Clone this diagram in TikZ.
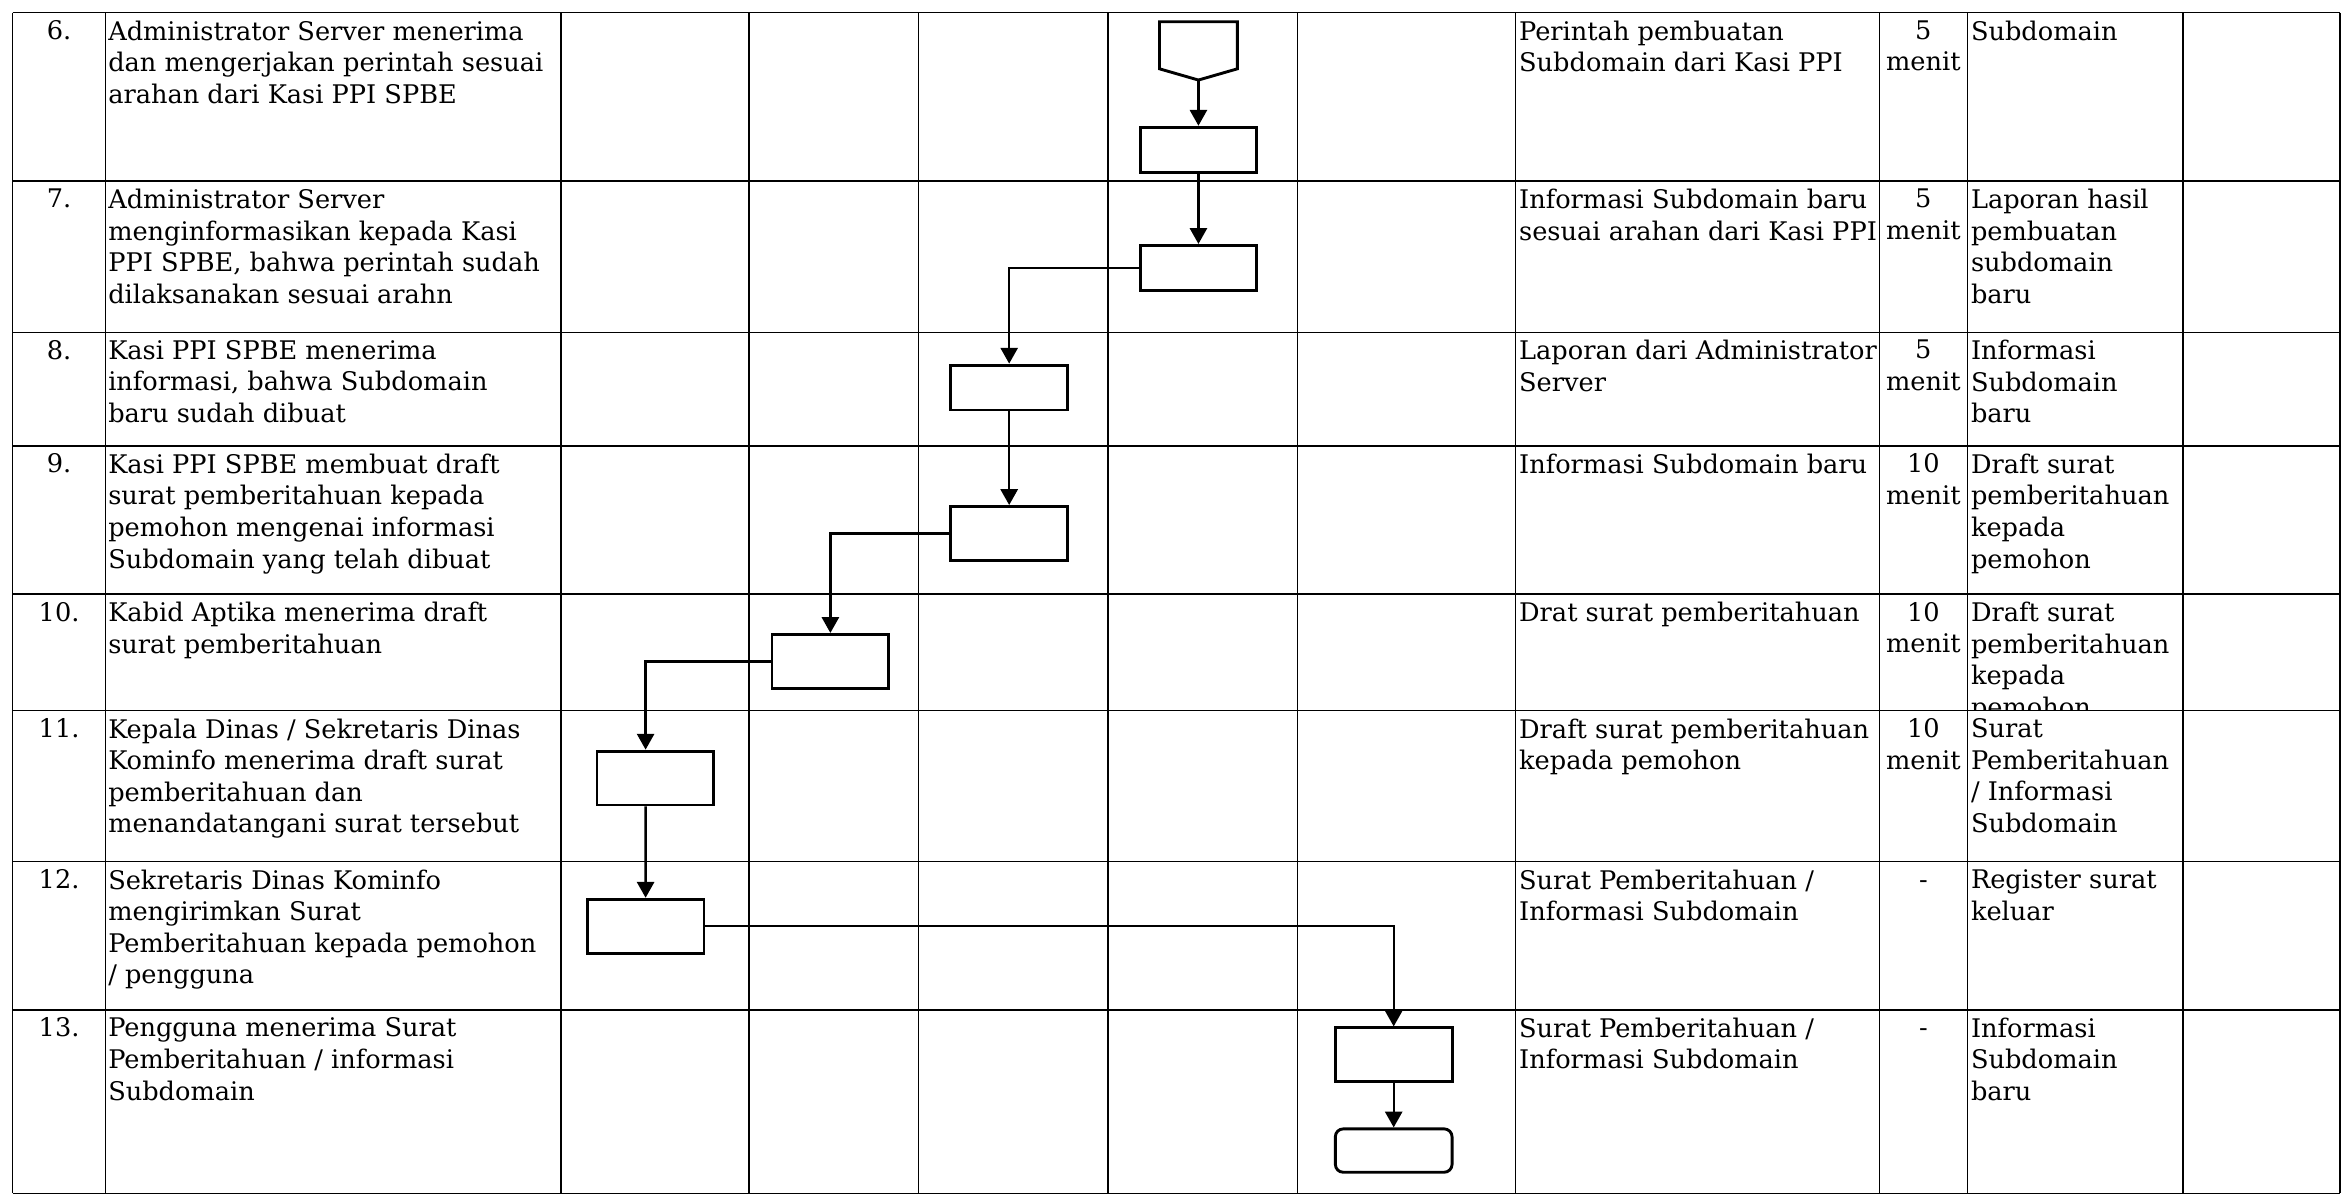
\documentclass[tikz,border=0pt]{standalone}
\usepackage{fontspec}
\setmainfont{DejaVu Serif}
\usetikzlibrary{arrows.meta}
\newcommand{\txt}{\fontsize{9.75}{12}\selectfont}

\begin{document}
\begin{tikzpicture}[x=0.2mm, y=-0.2mm,
    cell/.style={anchor=north west, inner sep=0pt, align=left, font=\txt},
    num/.style={anchor=north, inner sep=0pt, align=center, font=\txt},
    proc/.style={draw, line width=1.1pt, inner sep=0pt, minimum width=1.56cm, minimum height=0.72cm},
    flow/.style={line width=0.9pt, -{Triangle[width=6.5pt, length=6pt]}},
    grid line/.style={line width=0.5pt}]
  \useasboundingbox (0,0) rectangle (1568,799);

  % table
  \foreach \x in {8.5,70.5,375,500.5,614,740.5,867,1013,1256,1315,1459,1564}
    \draw[grid line] (\x,8.5) -- (\x,797.5);
  \foreach \y in {8.5,121,222,298,397,475,576,675,797.5}
    \draw[grid line] (8.5,\y) -- (1564,\y);

  % row 6
  \node[num] (n6) at (39.5,13.5) {6.};
  \node[cell] (a6) at (72,13.5) {Administrator Server menerima\\dan mengerjakan perintah sesuai\\arahan dari Kasi PPI SPBE};
  \node[cell] (in6) at (1015,13.5) {Perintah pembuatan\\Subdomain dari Kasi PPI};
  \node[num] (t6) at (1285.5,13.5) {5\\menit};
  \node[cell] (out6) at (1317,13.5) {Subdomain};

  % row 7
  \node[num] (n7) at (39.5,126) {7.};
  \node[cell] (a7) at (72,126) {Administrator Server\\menginformasikan kepada Kasi\\PPI SPBE, bahwa perintah sudah\\dilaksanakan sesuai arahn};
  \node[cell] (in7) at (1015,126) {Informasi Subdomain baru\\sesuai arahan dari Kasi PPI};
  \node[num] (t7) at (1285.5,126) {5\\menit};
  \node[cell] (out7) at (1317,126) {Laporan hasil\\pembuatan\\subdomain\\baru};

  % row 8
  \node[num] (n8) at (39.5,227) {8.};
  \node[cell] (a8) at (72,227) {Kasi PPI SPBE menerima\\informasi, bahwa Subdomain\\baru sudah dibuat};
  \node[cell] (in8) at (1015,227) {Laporan dari Administrator\\Server};
  \node[num] (t8) at (1285.5,227) {5\\menit};
  \node[cell] (out8) at (1317,227) {Informasi\\Subdomain\\baru};

  % row 9
  \node[num] (n9) at (39.5,303) {9.};
  \node[cell] (a9) at (72,303) {Kasi PPI SPBE membuat draft\\surat pemberitahuan kepada\\pemohon mengenai informasi\\Subdomain yang telah dibuat};
  \node[cell] (in9) at (1015,303) {Informasi Subdomain baru};
  \node[num] (t9) at (1285.5,303) {10\\menit};
  \node[cell] (out9) at (1317,303) {Draft surat\\pemberitahuan\\kepada\\pemohon};

  % row 10
  \node[num] (n10) at (39.5,402) {10.};
  \node[cell] (a10) at (72,402) {Kabid Aptika menerima draft\\surat pemberitahuan};
  \node[cell] (in10) at (1015,402) {Drat surat pemberitahuan};
  \node[num] (t10) at (1285.5,402) {10\\menit};
  \begin{scope}
    \clip (1315,397) rectangle (1459,475);
    \node[cell] (out10) at (1317,402) {Draft surat\\pemberitahuan\\kepada\\pemohon};
  \end{scope}

  % row 11
  \node[num] (n11) at (39.5,480) {11.};
  \node[cell] (a11) at (72,480) {Kepala Dinas / Sekretaris Dinas\\Kominfo menerima draft surat\\pemberitahuan dan\\menandatangani surat tersebut};
  \node[cell] (in11) at (1015,480) {Draft surat pemberitahuan\\kepada pemohon};
  \node[num] (t11) at (1285.5,480) {10\\menit};
  \node[cell] (out11) at (1317,480) {Surat\\Pemberitahuan\\/ Informasi\\Subdomain};

  % row 12
  \node[num] (n12) at (39.5,581) {12.};
  \node[cell] (a12) at (72,581) {Sekretaris Dinas Kominfo\\mengirimkan Surat\\Pemberitahuan kepada pemohon\\/ pengguna};
  \node[cell] (in12) at (1015,581) {Surat Pemberitahuan /\\Informasi Subdomain};
  \node[num] (t12) at (1285.5,581) {\vphantom{0}-};
  \node[cell] (out12) at (1317,581) {Register surat\\keluar};

  % row 13
  \node[num] (n13) at (39.5,680) {13.};
  \node[cell] (a13) at (72,680) {Pengguna menerima Surat\\Pemberitahuan / informasi\\Subdomain};
  \node[cell] (in13) at (1015,680) {Surat Pemberitahuan /\\Informasi Subdomain};
  \node[num] (t13) at (1285.5,680) {\vphantom{0}-};
  \node[cell] (out13) at (1317,680) {Informasi\\Subdomain\\baru};

  % flow
  \draw[line width=1.1pt] (775,14.5) -- (827,14.5) -- (827,46) -- (801,53.5) -- (775,46) -- cycle;
  \coordinate (off) at (801,53.5);
  \node[proc, minimum height=0.6cm] (r6) at (801,100) {};
  \node[proc, minimum height=0.6cm] (r7) at (801,179) {};
  \node[proc, minimum height=0.6cm] (r8) at (674.5,259) {};
  \node[proc] (r9) at (674.5,356.5) {};
  \node[proc] (r10) at (555,442) {};
  \node[proc] (r11) at (438,520) {};
  \node[proc] (r12) at (431.5,619) {};
  \node[proc] (r13) at (931.5,705) {};
  \node[proc, rounded corners=3pt, minimum height=0.58cm] (end) at (931.5,769) {};

  \draw[flow] (off) -- (r6);
  \draw[flow] (r6) -- (r7);
  \draw[flow] (r7.west) -| (r8.north);
  \draw[flow] (r8) -- (r9);
  \draw[flow] (r9.west) -| (r10.north);
  \draw[flow] (r10.west) -| ([xshift=-1.3mm]r11.north);
  \draw[flow] ([xshift=-1.3mm]r11.south) -- (r12);
  \draw[flow] (r12.east) -| (r13.north);
  \draw[flow] (r13) -- (end);
\end{tikzpicture}
\end{document}
